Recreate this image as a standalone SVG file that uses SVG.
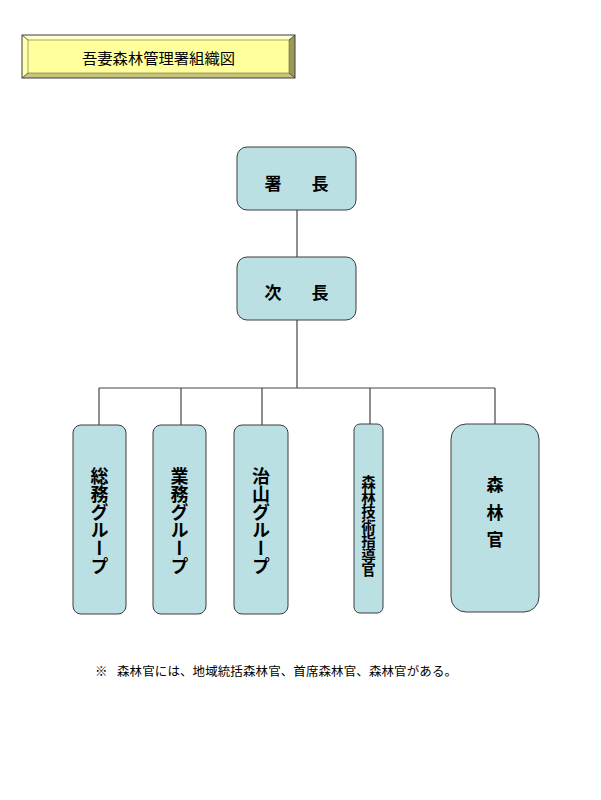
<svg xmlns="http://www.w3.org/2000/svg" width="601" height="800" viewBox="0 0 601 800">
<style>
.box{fill:#bbe0e4;stroke:#3c3c3c;stroke-width:1}
.ln{stroke:#444;stroke-width:1.2;fill:none}
.t{font-family:"Noto Sans CJK JP","Noto Sans CJK SC",sans-serif;fill:#000}
.b{font-weight:bold}
.v{writing-mode:vertical-rl;text-anchor:middle}
</style>
<rect width="601" height="800" fill="#fff"/>
<g id="title">
<polygon points="22,35 295,35 289,40 28,40" fill="#ffffcc"/>
<polygon points="22,35 28,40 28,73 22,78" fill="#ffffb0"/>
<polygon points="22,78 28,73 289,73 295,78" fill="#c8c47a"/>
<polygon points="295,35 295,78 289,73 289,40" fill="#9c9858"/>
<rect x="28" y="40" width="261" height="33" fill="#ffff9c"/>
<rect x="22" y="35" width="273" height="43" fill="none" stroke="#3c3c3c" stroke-width="1"/>
<path d="M22,35 L28,40 M295,35 L289,40 M22,78 L28,73 M295,78 L289,73" stroke="#3c3c3c" stroke-width="0.8"/>
<rect x="28" y="40" width="261" height="33" fill="none" stroke="#6a6a40" stroke-width="0.6"/>
<text class="t" x="158.5" y="57" font-size="15.3" text-anchor="middle" dominant-baseline="central">吾妻森林管理署組織図</text>
</g>
<g id="connectors" class="ln">
<line x1="297" y1="210" x2="297" y2="257"/>
<line x1="297" y1="320" x2="297" y2="388"/>
<line x1="99" y1="388" x2="495" y2="388"/>
<line x1="99" y1="388" x2="99" y2="425"/>
<line x1="181" y1="388" x2="181" y2="425"/>
<line x1="262" y1="388" x2="262" y2="425"/>
<line x1="370" y1="388" x2="370" y2="424"/>
<line x1="495" y1="388" x2="495" y2="424"/>
</g>
<g id="shocho">
<rect class="box" x="237" y="147" width="119" height="63" rx="10"/>
<text class="t b" x="264.5" y="182" font-size="17" letter-spacing="6.5" dominant-baseline="central">署　長</text>
</g>
<g id="jicho">
<rect class="box" x="237" y="257" width="119" height="63" rx="10"/>
<text class="t b" x="264.5" y="291" font-size="17" letter-spacing="6.5" dominant-baseline="central">次　長</text>
</g>
<g id="somu">
<rect class="box" x="73" y="425" width="53" height="189" rx="8"/>
<text class="t b v" x="99.5" y="521" font-size="18">総務グループ</text>
</g>
<g id="gyomu">
<rect class="box" x="153" y="425" width="53" height="189" rx="8"/>
<text class="t b v" x="179.5" y="521" font-size="18">業務グループ</text>
</g>
<g id="chisan">
<rect class="box" x="234" y="425" width="54" height="189" rx="8"/>
<text class="t b v" x="261" y="521" font-size="18">治山グループ</text>
</g>
<g id="gijutsu">
<rect class="box" x="354" y="424" width="29" height="189" rx="6"/>
<text class="t b v" x="368.5" y="526" font-size="14.5">森林技術指導官</text>
</g>
<g id="shinrinkan">
<rect class="box" x="451" y="424" width="88" height="188" rx="15"/>
<text class="t b" x="495" y="483" font-size="17" text-anchor="middle" dominant-baseline="central">森</text>
<text class="t b" x="495" y="511" font-size="17" text-anchor="middle" dominant-baseline="central">林</text>
<text class="t b" x="495" y="538" font-size="17" text-anchor="middle" dominant-baseline="central">官</text>
</g>
<text class="t" x="95" y="670" font-size="12.5" dominant-baseline="central">※ <tspan x="117" textLength="340" lengthAdjust="spacing">森林官には、地域統括森林官、首席森林官、森林官がある。</tspan></text>
</svg>
